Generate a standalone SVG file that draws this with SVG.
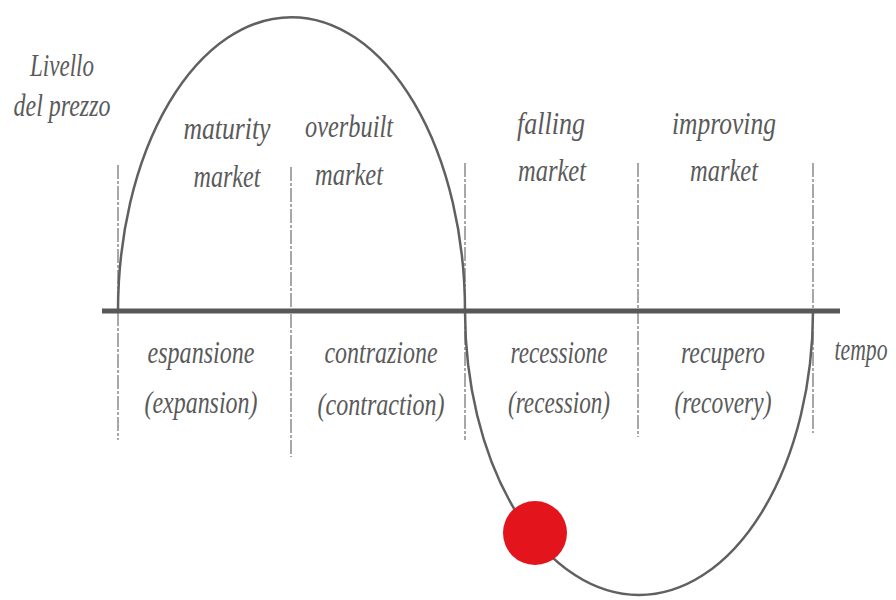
<svg xmlns="http://www.w3.org/2000/svg" width="896" height="600" viewBox="0 0 896 600">
<style>
.t{font-family:"Liberation Serif","DejaVu Serif",serif;font-style:italic;font-size:31px;fill:#5a5a5a;text-anchor:middle}
.v{stroke:#8a8a8a;stroke-width:1.5;stroke-dasharray:14 2 3 2;fill:none}
.c{stroke:#606060;stroke-width:2.5;fill:none}
</style>
<rect width="896" height="600" fill="#fff"/>
<g id="dividers">
<line class="v" x1="118" y1="165" x2="118" y2="440"/>
<line class="v" x1="291" y1="167" x2="291" y2="457"/>
<line class="v" x1="465" y1="163" x2="465" y2="440"/>
<line class="v" x1="638" y1="163" x2="638" y2="437"/>
<line class="v" x1="813" y1="163" x2="813" y2="433"/>
</g>
<g id="curve">
<path class="c" d="M118,311 A173,293 0 0 1 465,311"/>
<path class="c" d="M465,311 A174,284 0 0 0 813,311"/>
</g>
<line id="axis" x1="102" y1="311" x2="840" y2="311" stroke="#585858" stroke-width="5"/>
<circle id="ball" cx="535" cy="533" r="32" fill="#e3141b"/>
<g id="labels">
<text class="t" x="62" y="76" textLength="64" lengthAdjust="spacingAndGlyphs">Livello</text>
<text class="t" x="62" y="116" textLength="97" lengthAdjust="spacingAndGlyphs">del prezzo</text>
<text class="t" x="227" y="139" textLength="87" lengthAdjust="spacingAndGlyphs">maturity</text>
<text class="t" x="227" y="187" textLength="67" lengthAdjust="spacingAndGlyphs">market</text>
<text class="t" x="349" y="137" textLength="88" lengthAdjust="spacingAndGlyphs">overbuilt</text>
<text class="t" x="349" y="185" textLength="68" lengthAdjust="spacingAndGlyphs">market</text>
<text class="t" x="551" y="134" textLength="68" lengthAdjust="spacingAndGlyphs">falling</text>
<text class="t" x="552" y="181" textLength="68" lengthAdjust="spacingAndGlyphs">market</text>
<text class="t" x="724" y="134" textLength="104" lengthAdjust="spacingAndGlyphs">improving</text>
<text class="t" x="724" y="181" textLength="68" lengthAdjust="spacingAndGlyphs">market</text>
<text class="t" x="201" y="363" textLength="107" lengthAdjust="spacingAndGlyphs">espansione</text>
<text class="t" x="201" y="413" textLength="113" lengthAdjust="spacingAndGlyphs">(expansion)</text>
<text class="t" x="381" y="363" textLength="113" lengthAdjust="spacingAndGlyphs">contrazione</text>
<text class="t" x="381" y="415" textLength="127" lengthAdjust="spacingAndGlyphs">(contraction)</text>
<text class="t" x="559" y="363" textLength="97" lengthAdjust="spacingAndGlyphs">recessione</text>
<text class="t" x="559" y="413" textLength="102" lengthAdjust="spacingAndGlyphs">(recession)</text>
<text class="t" x="723" y="363" textLength="84" lengthAdjust="spacingAndGlyphs">recupero</text>
<text class="t" x="723" y="413" textLength="97" lengthAdjust="spacingAndGlyphs">(recovery)</text>
<text class="t" transform="translate(861,360) scale(0.7,1)" x="0" y="0">tempo</text>
</g>
</svg>
